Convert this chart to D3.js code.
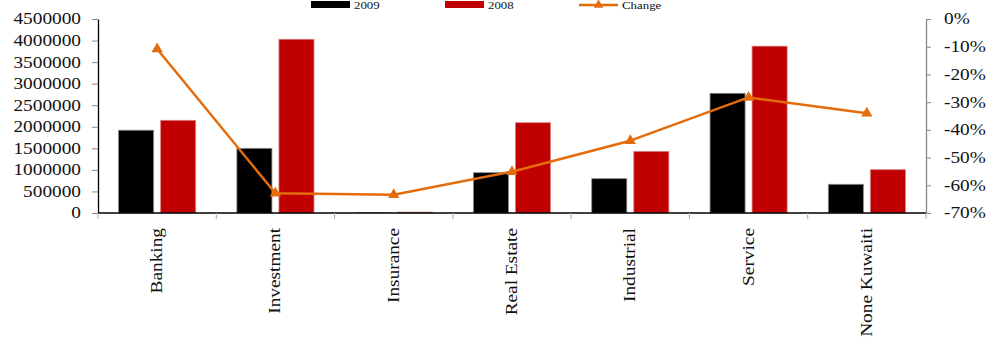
<!DOCTYPE html>
<html><head><meta charset="utf-8">
<script src="https://cdn.jsdelivr.net/npm/d3@7"></script>
<style>
html,body{margin:0;padding:0;background:#fff;}
svg text{font-family:"Liberation Serif","Times New Roman",serif;fill:#111;}
</style></head>
<body><svg id="c" width="1002" height="345"></svg>
<script>
const categories = ["Banking","Investment","Insurance","Real Estate","Industrial","Service","None Kuwaiti"];
const values2009 = [1920000,1500000,7000,935000,796000,2777000,666000];
const values2008 = [2150000,4030000,20000,2095000,1430000,3870000,1005000];
const changeVals = [-0.108,-0.629,-0.634,-0.551,-0.439,-0.283,-0.340];
const leftTicks = [0,500000,1000000,1500000,2000000,2500000,3000000,3500000,4000000,4500000];
const rightTicks = [0,-0.1,-0.2,-0.3,-0.4,-0.5,-0.6,-0.7];
const seriesNames = ["2009","2008","Change"];

const STRETCH = 1.17;
const svg = d3.select("#c");
const L = 98, R = 926, T = 19, B = 213;

const x = d3.scaleBand().domain(categories).range([L, R]).paddingInner(0).paddingOuter(0);
const xs = d3.scaleBand().domain(["2009","2008"]).range([0, x.bandwidth()]).paddingInner(1/6).paddingOuter(0.49);
const y = d3.scaleLinear().domain([0, 4500000]).range([B, T]);
const yR = d3.scaleLinear().domain([-0.7, 0]).range([B, T]);

function stretch(sel){
  sel.each(function(){
    const w = this.getComputedTextLength();
    this.setAttribute("textLength", w*STRETCH);
    this.setAttribute("lengthAdjust","spacingAndGlyphs");
  });
}

// bars
const g = svg.append("g");
categories.forEach((c,i)=>{
  const h9 = B - y(values2009[i]);
  g.append("rect").attr("x", x(c)+xs("2009")).attr("width", xs.bandwidth())
    .attr("y", y(values2009[i])).attr("height", h9)
    .attr("fill","#000").attr("stroke", h9 > 1 ? "#8a8a8a" : "none").attr("stroke-width",0.8);
  g.append("rect").attr("x", x(c)+xs("2008")).attr("width", xs.bandwidth())
    .attr("y", y(values2008[i])).attr("height", B - y(values2008[i]))
    .attr("fill","#C00000").attr("stroke","#d98080").attr("stroke-width",0.8);
});

// left axis
const ax = svg.append("g").attr("transform",`translate(${L},0)`)
  .call(d3.axisLeft(y).tickValues(leftTicks).tickFormat(d3.format("d")).tickSize(6).tickSizeOuter(0));
ax.select(".domain").attr("stroke","#000").attr("stroke-width",1.3);
ax.selectAll(".tick line").attr("stroke","#888");
ax.selectAll(".tick text").attr("x",-17).attr("dy","0.3em").style("font-size","16.5px").style("font-family","Liberation Serif").attr("fill","#111").call(stretch);

// right axis
const ar = svg.append("g").attr("transform",`translate(${R},0)`)
  .call(d3.axisRight(yR).tickValues(rightTicks).tickFormat(d3.format(".0%")).tickSize(5).tickSizeOuter(0));
ar.select(".domain").attr("stroke","#888").attr("stroke-width",1.3);
ar.selectAll(".tick line").attr("stroke","#888");
ar.selectAll(".tick text").attr("x",18).attr("dy","0.3em").style("font-size","16.5px").style("font-family","Liberation Serif").attr("fill","#111")
  .text(d => (d===0?"0":Math.round(d*100)) + "%").call(stretch);

// bottom axis
const ab = svg.append("g").attr("transform",`translate(0,${B})`);
ab.append("line").attr("x1",L).attr("x2",R).attr("y1",0).attr("y2",0).attr("stroke","#000").attr("stroke-width",1.3);
const bounds = categories.map(c=>x(c)).concat([R]);
ab.selectAll("line.t").data(bounds).enter().append("line").attr("class","t")
  .attr("x1",d=>d).attr("x2",d=>d).attr("y1",0).attr("y2",6).attr("stroke","#aaa");
ab.selectAll("text").data(categories).enter().append("text")
  .attr("transform", d=>`translate(${x(d)+x.bandwidth()/2},15) rotate(-90)`)
  .attr("text-anchor","end").attr("dy","0.3em").style("font-size","16.5px")
  .text(d=>d).call(stretch);

// line
const line = d3.line().x((d,i)=>x(categories[i])+x.bandwidth()/2).y(d=>yR(d));
svg.append("path").datum(changeVals).attr("d",line).attr("fill","none")
  .attr("stroke","#E46C0A").attr("stroke-width",2.5).attr("stroke-linejoin","round");
svg.selectAll("path.m").data(changeVals).enter().append("path").attr("class","m")
  .attr("d", d3.symbol().type(d3.symbolTriangle).size(55))
  .attr("transform",(d,i)=>`translate(${x(categories[i])+x.bandwidth()/2},${yR(d)})`)
  .attr("fill","#E46C0A");

// legend
const lg = svg.append("g");
lg.append("rect").attr("x",311).attr("y",1).attr("width",39).attr("height",7).attr("fill","#000");
lg.append("text").attr("x",354).attr("y",8.5).style("font-size","11px").text(seriesNames[0]).call(stretch);
lg.append("rect").attr("x",445).attr("y",1).attr("width",39).attr("height",7).attr("fill","#C00000");
lg.append("text").attr("x",488).attr("y",8.5).style("font-size","11px").text(seriesNames[1]).call(stretch);
lg.append("line").attr("x1",579).attr("x2",618).attr("y1",5).attr("y2",5).attr("stroke","#E46C0A").attr("stroke-width",2.5);
lg.append("path").attr("d", d3.symbol().type(d3.symbolTriangle).size(40)).attr("transform","translate(598.5,5)").attr("fill","#E46C0A");
lg.append("text").attr("x",622).attr("y",8.5).style("font-size","11px").text(seriesNames[2]).call(stretch);
</script></body></html>
